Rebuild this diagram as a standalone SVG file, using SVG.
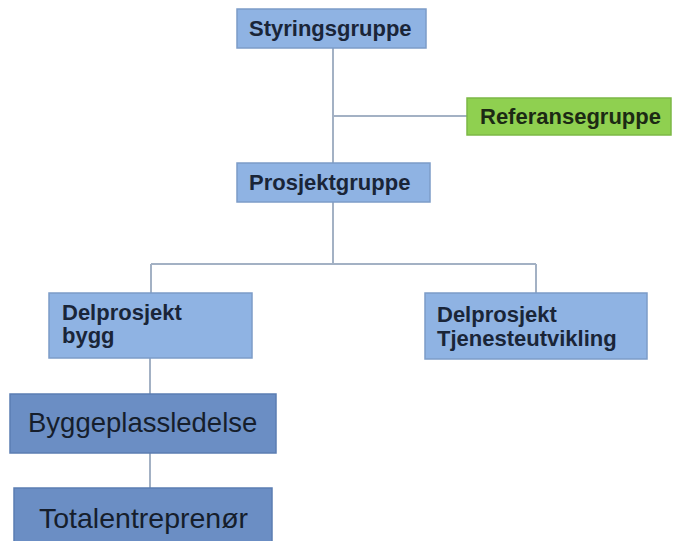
<svg xmlns="http://www.w3.org/2000/svg" width="673" height="541" viewBox="0 0 673 541">
<style>
.lb{fill:#8fb3e3;stroke:#7c9cc8;stroke-width:1.5}
.db{fill:#6b8ec4;stroke:#5b7db2;stroke-width:1.5}
.gr{fill:#8fd050;stroke:#7cb845;stroke-width:1.5}
.t{font-family:"Liberation Sans",Arial,sans-serif;font-weight:bold;font-size:22px;fill:#1a2538}
.tg{font-family:"Liberation Sans",Arial,sans-serif;font-weight:bold;font-size:22px;fill:#1c2a14}
.tl{font-family:"Liberation Sans",Arial,sans-serif;font-size:27.5px;fill:#161e2c}
.tl2{font-size:28.5px}
.c{stroke:#a3b1c4;stroke-width:2;fill:none}
</style>
<rect width="673" height="541" fill="#ffffff"/>
<g id="connectors">
<path class="c" d="M333 48V163"/>
<path class="c" d="M333 116H467"/>
<path class="c" d="M333 202V264"/>
<path class="c" d="M151 264H536"/>
<path class="c" d="M151 264V293"/>
<path class="c" d="M536 264V293"/>
<path class="c" d="M150 358V394"/>
<path class="c" d="M150 453V488"/>
</g>
<g id="styringsgruppe">
<rect class="lb" x="237" y="9" width="189" height="39"/>
<text class="t" x="249" y="36">Styringsgruppe</text>
</g>
<g id="referansegruppe">
<rect class="gr" x="467" y="98" width="204" height="37"/>
<text class="tg" x="480" y="124">Referansegruppe</text>
</g>
<g id="prosjektgruppe">
<rect class="lb" x="237" y="163" width="193" height="39"/>
<text class="t" x="249" y="190">Prosjektgruppe</text>
</g>
<g id="delprosjekt-bygg">
<rect class="lb" x="49" y="293" width="203" height="65"/>
<text class="t" x="62" y="320">Delprosjekt</text>
<text class="t" x="62" y="343">bygg</text>
</g>
<g id="delprosjekt-tjenesteutvikling">
<rect class="lb" x="425" y="293" width="222" height="66"/>
<text class="t" x="437" y="322">Delprosjekt</text>
<text class="t" x="437" y="346">Tjenesteutvikling</text>
</g>
<g id="byggeplassledelse">
<rect class="db" x="10" y="394" width="266" height="59"/>
<text class="tl" x="28" y="432">Byggeplassledelse</text>
</g>
<g id="totalentreprenor">
<rect class="db" x="14" y="488" width="258" height="60"/>
<text class="tl tl2" x="39" y="528">Totalentreprenør</text>
</g>
</svg>
